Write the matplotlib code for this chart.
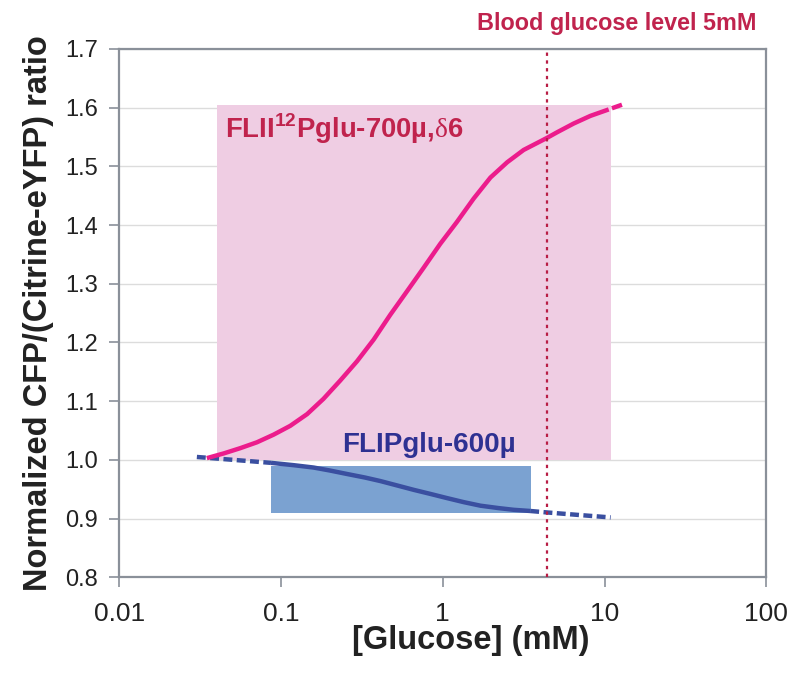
import numpy as np
import matplotlib.pyplot as plt

plt.rcParams['font.family'] = ['Liberation Sans', 'DejaVu Sans']
plt.rcParams['mathtext.fontset'] = 'custom'
plt.rcParams['mathtext.bf'] = 'Liberation Sans:bold'
plt.rcParams['mathtext.rm'] = 'Liberation Serif'

# FLII12Pglu-700u,d6 titration curve
pink_x = [0.0348, 0.0442, 0.056, 0.071, 0.090, 0.114, 0.145, 0.183, 0.232, 0.295,
          0.374, 0.473, 0.600, 0.760, 0.964, 1.22, 1.55, 1.97, 2.50, 3.16,
          4.37, 5.08, 6.44, 8.17, 10.6]
pink_y = [1.003, 1.011, 1.020, 1.030, 1.043, 1.058, 1.078, 1.104, 1.135, 1.168,
          1.205, 1.247, 1.287, 1.327, 1.368, 1.405, 1.445, 1.481, 1.507, 1.528,
          1.548, 1.558, 1.573, 1.586, 1.597]
pink_ext_x = [11.1, 12.8]
pink_ext_y = [1.599, 1.605]

# FLIPglu-600u curve
blue_x = [0.0867, 0.12, 0.159, 0.20, 0.256, 0.33, 0.411, 0.53, 0.661, 0.84,
          1.06, 1.35, 1.71, 2.2, 2.74, 3.47]
blue_y = [0.995, 0.991, 0.987, 0.982, 0.976, 0.970, 0.964, 0.956, 0.949, 0.942,
          0.935, 0.928, 0.922, 0.918, 0.915, 0.913]
blue_lo_x = [0.0302, 0.0867]
blue_lo_y = [1.005, 0.995]
blue_hi_x = [3.47, 4.41, 7.08, 10.9]
blue_hi_y = [0.913, 0.9105, 0.906, 0.902]

# dynamic ranges (shaded boxes)
pink_box = (0.04, 11.0, 1.0, 1.605)
blue_box = (0.087, 3.52, 0.91, 0.99)
blood_glucose = 4.4

xticks = [0.01, 0.1, 1, 10, 100]
xticklabels = ['0.01', '0.1', '1', '10', '100']
yticks = [0.8, 0.9, 1.0, 1.1, 1.2, 1.3, 1.4, 1.5, 1.6, 1.7]

pink = '#ec1c8c'
blue = '#3a4fa0'
crimson = '#c0234d'

fig = plt.figure(figsize=(8, 6.8), dpi=100)
ax = fig.add_axes([0.149, 0.151, 0.809, 0.777])

ax.fill_between([pink_box[0], pink_box[1]], pink_box[2], pink_box[3],
                color='#efcde3', lw=0, zorder=1)
ax.fill_between([blue_box[0], blue_box[1]], blue_box[2], blue_box[3],
                color='#7ba2d1', lw=0, zorder=2)

ax.plot(pink_x, pink_y, color=pink, lw=3.2, zorder=4, solid_capstyle='butt')
# last dashed bit past the fitted range
ax.plot(pink_ext_x, pink_ext_y, color=pink, lw=3.2, zorder=4, solid_capstyle='butt')

ax.plot(blue_x, blue_y, color=blue, lw=3.2, zorder=3, solid_capstyle='butt')
ax.plot(blue_lo_x, blue_lo_y, color=blue, lw=3.2, ls=(0, (2.0, 1.0)), zorder=3)
ax.plot(blue_hi_x, blue_hi_y, color=blue, lw=3.2, ls=(0, (2.0, 1.0)), zorder=3)

ax.axvline(blood_glucose, color='#b81d45', lw=1.6, ls=(0, (1.5, 2)), zorder=5)

ax.set_xscale('log')
ax.set_xlim(0.01, 100)
ax.set_ylim(0.8, 1.7)
ax.set_xticks(xticks)
ax.set_xticklabels(xticklabels)
ax.minorticks_off()
ax.set_yticks(yticks)
ax.set_yticklabels(['%.1f' % v for v in yticks])
ax.yaxis.grid(True, color='#dcdcdc', lw=1)
ax.set_axisbelow(True)
for s in ax.spines.values():
    s.set_color('#8a9099')
    s.set_linewidth(1.6)
ax.tick_params(axis='both', colors='#8a9099', labelcolor='#222222',
               length=7, width=1.2, direction='out')
ax.tick_params(axis='x', labelsize=19, pad=11)
ax.tick_params(axis='y', labelsize=17, pad=8)

ax.set_xlabel('[Glucose] (mM)', fontsize=23.5, fontweight='bold', color='#222222')
ax.xaxis.set_label_coords(0.543, -0.09)
ax.set_ylabel('Normalized CFP/(Citrine-eYFP) ratio', fontsize=23.5, fontweight='bold',
              color='#222222', labelpad=8)

ax.text(0.0452, 1.564, 'FLII$^{\\mathbf{12}}$Pglu-700µ,$\\mathrm{δ}$6', fontsize=19.8,
        fontweight='bold', color=crimson, va='center', zorder=6)
ax.text(0.239, 1.025, 'FLIPglu-600µ', fontsize=20, fontweight='bold',
        color='#2e3192', va='center', zorder=6)
fig.text(0.771, 0.965, 'Blood glucose level 5mM', fontsize=16.8, fontweight='bold',
         color=crimson, ha='center', va='center')

fig.savefig('out.png', dpi=100)
